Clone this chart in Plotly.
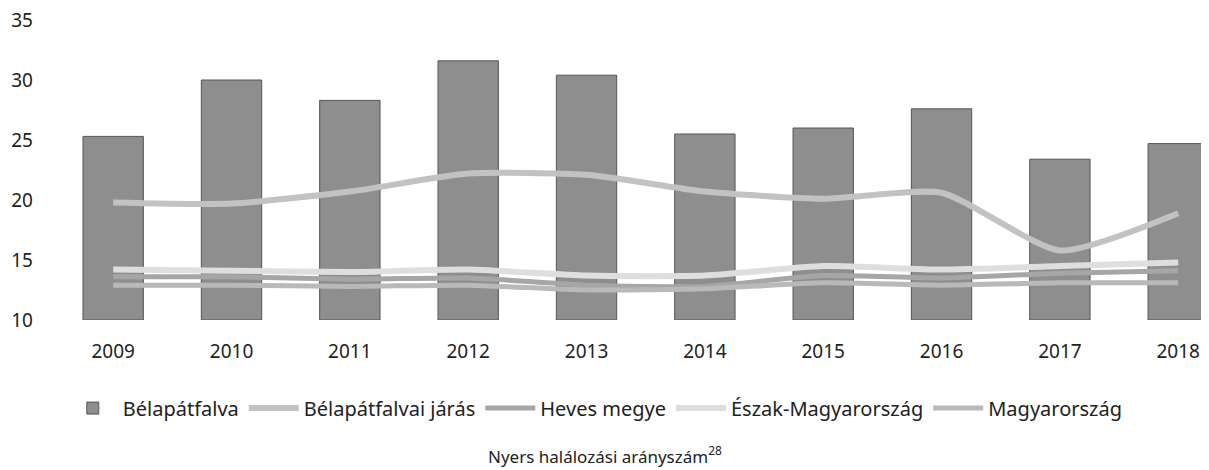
import plotly.graph_objects as go

years = ["2009", "2010", "2011", "2012", "2013", "2014", "2015", "2016", "2017", "2018"]
belapatfalva = [25.3, 30.0, 28.3, 31.6, 30.4, 25.5, 26.0, 27.6, 23.4, 24.7]
jaras = [19.8, 19.7, 20.7, 22.2, 22.1, 20.7, 20.1, 20.6, 15.8, 18.9]
heves = [13.6, 13.6, 13.4, 13.5, 12.9, 12.8, 13.7, 13.5, 13.9, 14.1]
eszak = [14.2, 14.1, 14.0, 14.2, 13.7, 13.7, 14.5, 14.2, 14.5, 14.8]
magyar = [12.9, 12.9, 12.8, 12.9, 12.5, 12.6, 13.1, 12.9, 13.1, 13.1]

BASE = 10
x = list(range(len(years)))
font = "Noto Sans"

fig = go.Figure()
fig.add_trace(go.Bar(x=x, y=[v - BASE for v in belapatfalva], base=BASE, name="Bélapátfalva",
                     width=0.51,
                     marker=dict(color="#8e8e8e", line=dict(color="#555555", width=1))))

def line(vals, name, color, width):
    fig.add_trace(go.Scatter(x=x, y=vals, name=name, mode="lines",
                             line=dict(color=color, width=width, shape="spline", smoothing=0.6)))

line(jaras, "Bélapátfalvai járás", "#c2c2c2", 6)
line(heves, "Heves megye", "#a6a6a6", 5)
line(eszak, "Észak-Magyarország", "#dedede", 6)
line(magyar, "Magyarország", "#b9b9b9", 5)

# page has an 8px body margin; figure sized to fit the window
fig.update_layout(
    width=1201, height=462,
    margin=dict(l=46, r=0, t=12, b=150),
    paper_bgcolor="white", plot_bgcolor="white",
    font=dict(family=font, size=18, color="#222222"),
    showlegend=True,
    legend=dict(orientation="h", xref="container", x=0.489, xanchor="center",
                yref="container", y=0.134, yanchor="middle",
                font=dict(size=20), itemwidth=50, tracegroupgap=0),
    title=dict(text="Nyers halálozási arányszám<sup>28</sup>", xref="container", x=0.497,
               xanchor="center", yref="container", y=0.029, yanchor="middle",
               font=dict(size=17, color="#222222")),
)
fig.update_xaxes(range=[-0.5, 9.26], tickvals=x, ticktext=years, showgrid=False,
                 showline=False, zeroline=False, ticks="", tickfont=dict(size=19),
                 ticklabelstandoff=18)
fig.update_yaxes(range=[10, 35], dtick=5, tick0=10, showgrid=False, showline=False,
                 zeroline=False, ticks="", tickfont=dict(size=19), ticklabelstandoff=20,
                 ticklabeloverflow="allow")

fig.write_html("out.html")
